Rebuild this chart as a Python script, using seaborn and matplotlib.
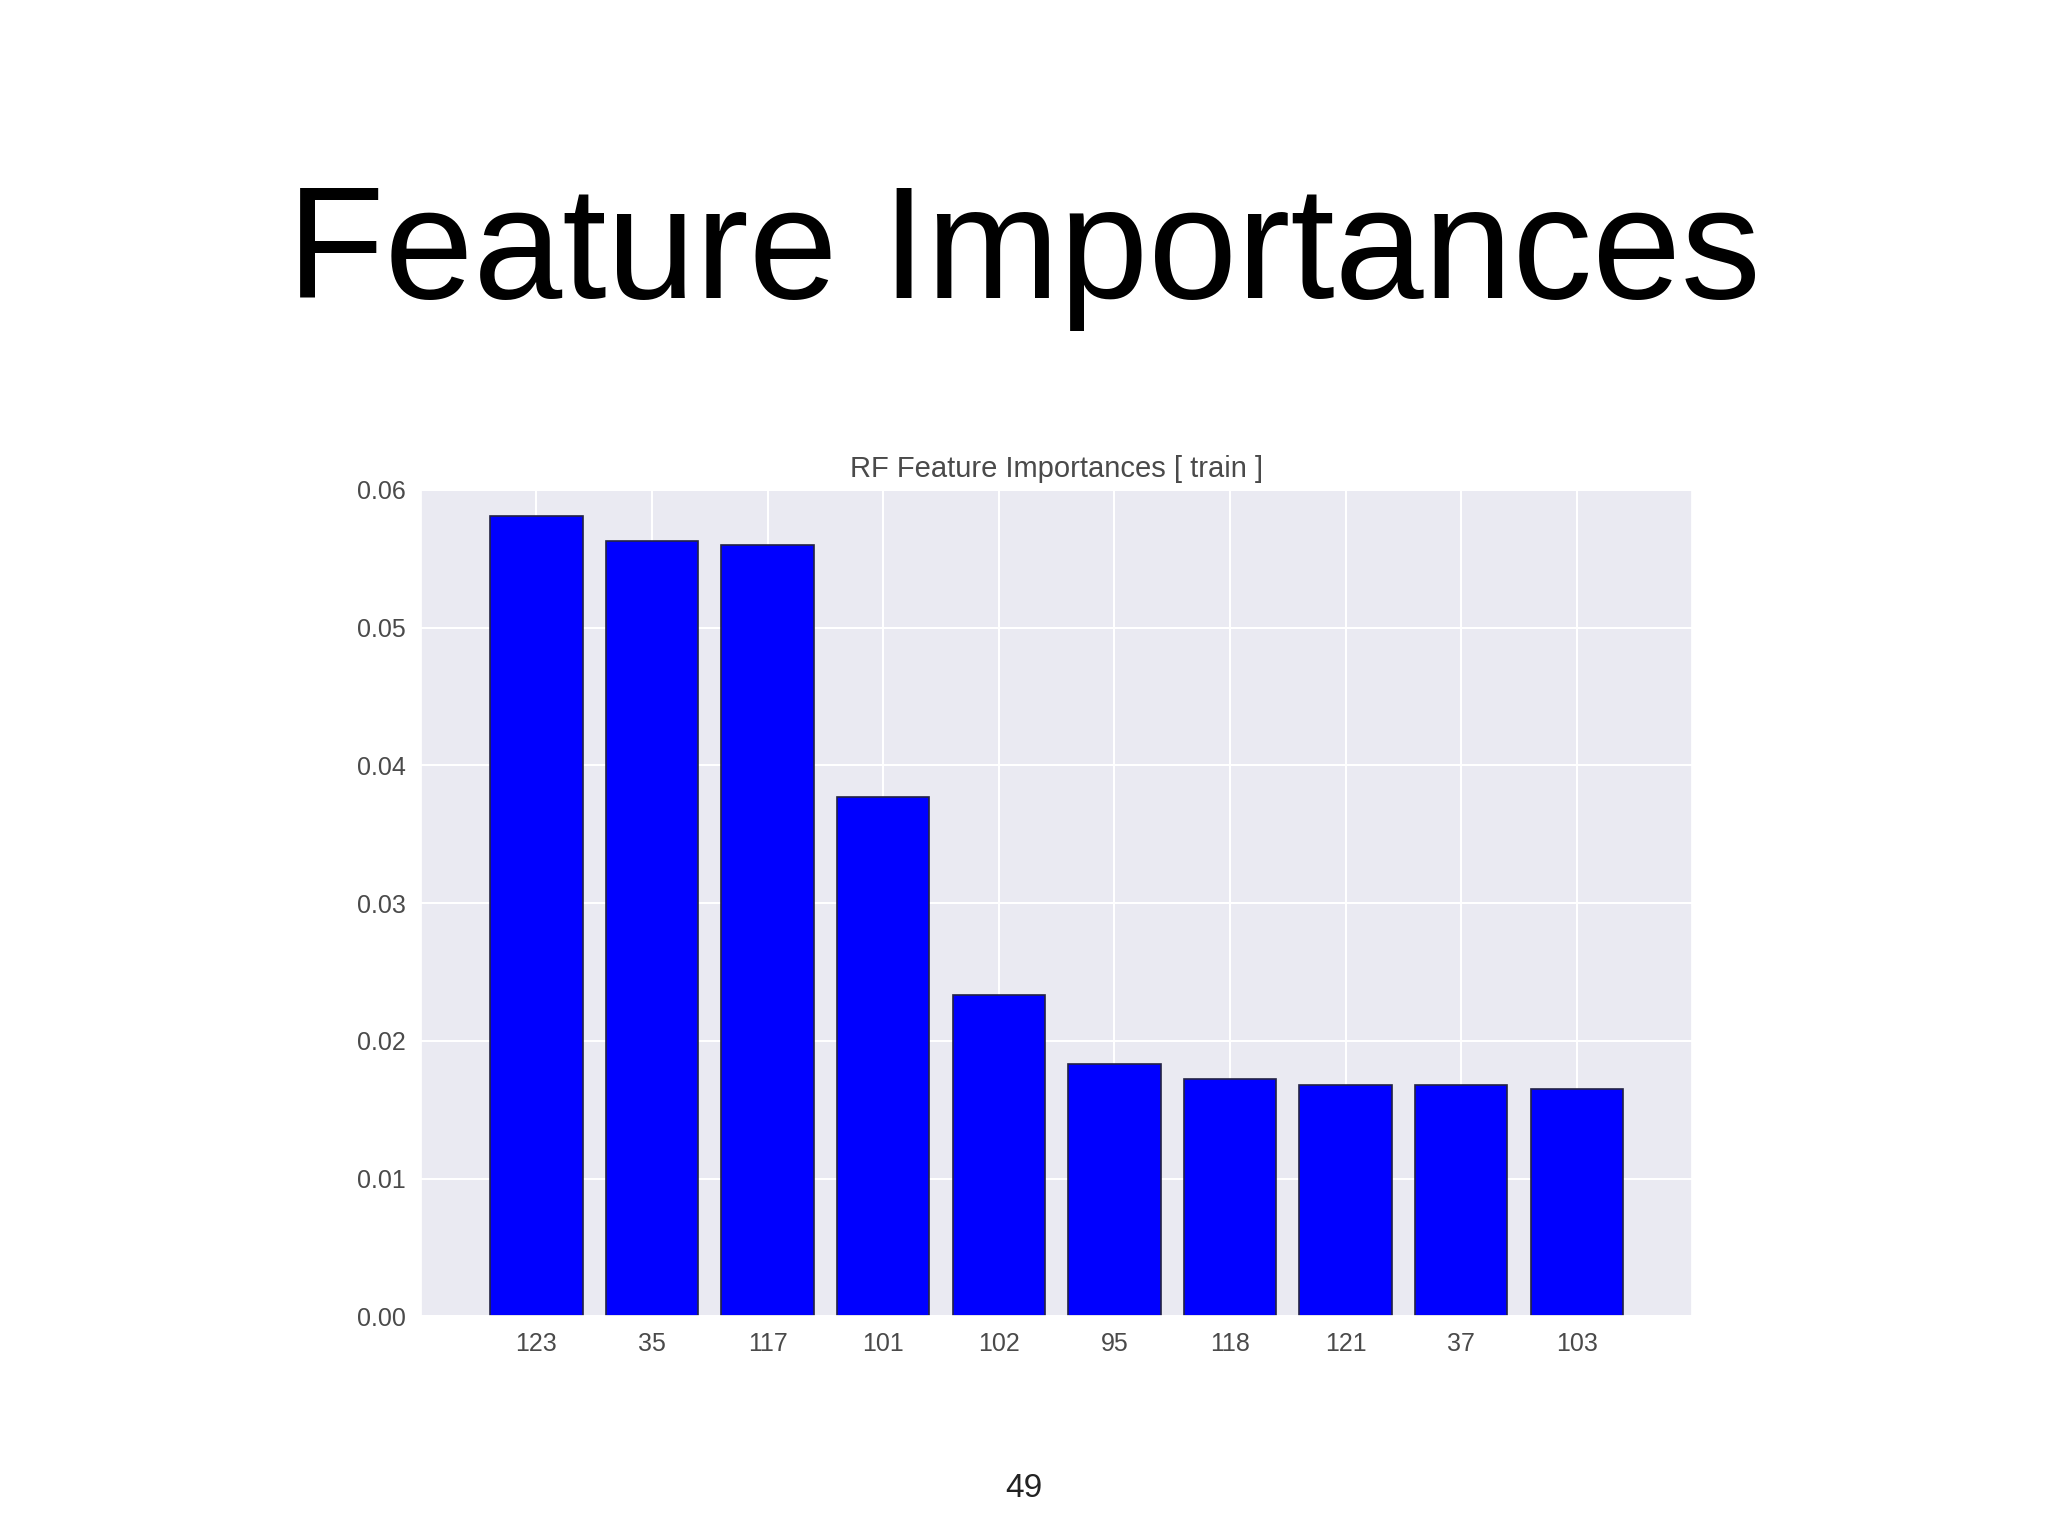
import matplotlib
matplotlib.use("Agg")
import matplotlib.pyplot as plt
import pandas as pd
import seaborn as sns

# feature ids in rank order and their importances
features = ["123", "35", "117", "101", "102", "95", "118", "121", "37", "103"]
importances = [0.0581, 0.0563, 0.0560, 0.0377, 0.0233, 0.0183, 0.0172, 0.0168, 0.0168, 0.0165]
y_ticks = [0.00, 0.01, 0.02, 0.03, 0.04, 0.05, 0.06]

df = pd.DataFrame({"feature": features, "importance": importances})

sns.set_theme(style="darkgrid")
plt.rcParams['font.family'] = ['Liberation Sans', 'DejaVu Sans']

fig = plt.figure(figsize=(20.48, 15.36), dpi=100)
fig.patch.set_facecolor("white")

# slide title
fig.text(0.5, 0.833, "Feature Importances", ha="center", va="center",
         fontsize=115, color="black")

ax = fig.add_axes([0.2054, 0.143, 0.621, 0.538])
sns.barplot(data=df, x="feature", y="importance", order=features,
            color="#0000ff", saturation=1, width=0.8,
            edgecolor="#222244", linewidth=1.2, ax=ax)

ax.set_xlim(-1, 10)
ax.set_ylim(0, 0.06)
ax.set_yticks(y_ticks)
ax.set_yticklabels([f"{v:.2f}" for v in y_ticks])
ax.xaxis.grid(True, color="white", linewidth=1.5)
ax.yaxis.grid(True, color="white", linewidth=1.5)
ax.set_axisbelow(True)
ax.set_xlabel("")
ax.set_ylabel("")
ax.set_title("RF Feature Importances [ train ]", fontsize=21, color="#4a4a4a", pad=9)
ax.tick_params(axis="both", labelsize=18, labelcolor="#4a4a4a", length=0)
ax.tick_params(axis="y", pad=11)
ax.tick_params(axis="x", pad=11)

# page number
fig.text(0.5, 0.031, "49", ha="center", va="center", fontsize=24, color="#222222")

fig.savefig("out.png", dpi=100, facecolor="white")
